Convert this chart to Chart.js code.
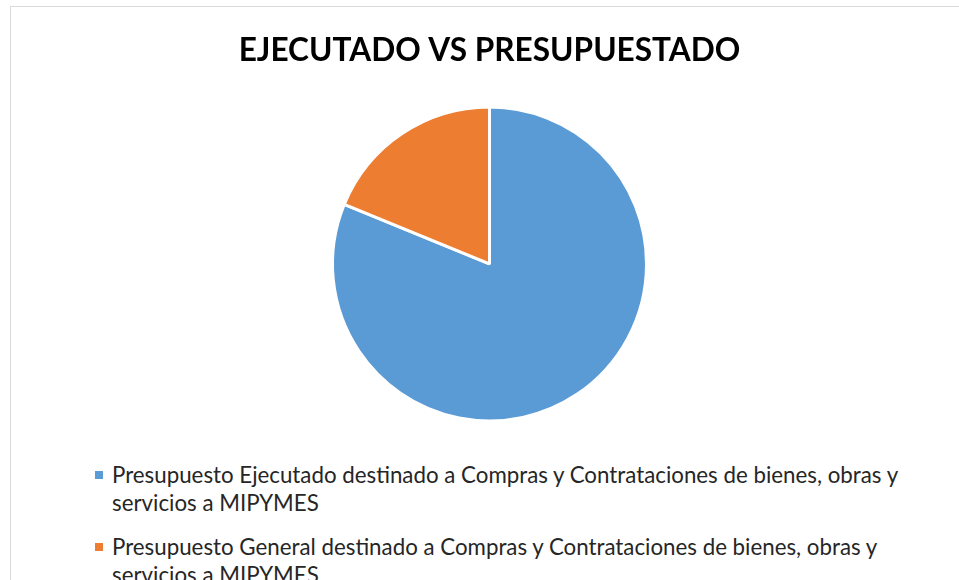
<!DOCTYPE html>
<html>
<head>
<meta charset="utf-8">
<script src="https://cdn.jsdelivr.net/npm/chart.js@4"></script>
<style>
  body { margin: 0; background: #fff; font-family: Lato, "Noto Sans", sans-serif; }
  #frame { position: absolute; left: 10px; top: 6px; width: 1000px; height: 620px; border: 1px solid #d9d9d9; box-sizing: border-box; }
  #wrap { position: absolute; left: 0; top: 0; width: 959px; height: 450px; }
  #legend { position: absolute; left: 95px; top: 461px; width: 860px; font-size: 22.3px; color: #262626; white-space: nowrap; }
  .item { position: relative; padding-left: 17px; line-height: 28px; margin-bottom: 16px; }
  .box { position: absolute; left: 0; top: 10px; width: 8px; height: 8px; }
</style>
</head>
<body>
<div id="frame"></div>
<div id="wrap"><canvas id="pieChart"></canvas></div>
<div id="legend"></div>
<script>
document.addEventListener('DOMContentLoaded', function() {

  const title = 'EJECUTADO VS PRESUPUESTADO';
  const labels = [
    ['Presupuesto Ejecutado destinado a Compras y Contrataciones de bienes, obras y', 'servicios a MIPYMES'],
    ['Presupuesto General destinado a Compras y Contrataciones de bienes, obras y', 'servicios a MIPYMES']
  ];
  const values = [81.2, 18.8];
  const colors = ['#5b9bd5', '#ed7d31'];

  const ctx = document.getElementById('pieChart').getContext('2d');
  new Chart(ctx, {
    type: 'pie',
    data: {
      labels: labels.map(l => l.join(' ')),
      datasets: [{
        data: values,
        backgroundColor: colors,
        borderColor: '#ffffff',
        borderWidth: 3,
        radius: 157
      }]
    },
    options: {
      responsive: true,
      maintainAspectRatio: false,
      animation: false,
      layout: { padding: { left: 20, bottom: 14 } },
      plugins: {
        legend: { display: false },
        tooltip: { enabled: false },
        title: {
          display: true,
          text: title,
          color: '#000',
          font: { family: 'Lato', size: 31.6, weight: 'bold' },
          padding: { top: 32, bottom: 22 }
        }
      }
    }
  });

  // legend below the chart, wrapped like the original
  const legend = document.getElementById('legend');
  labels.forEach(function(l, i) {
    const div = document.createElement('div');
    div.className = 'item';
    div.innerHTML = '<span class="box" style="background:' + colors[i] + '"></span>' + l.join('<br>');
    legend.appendChild(div);
  });
});
</script>
</body>
</html>
